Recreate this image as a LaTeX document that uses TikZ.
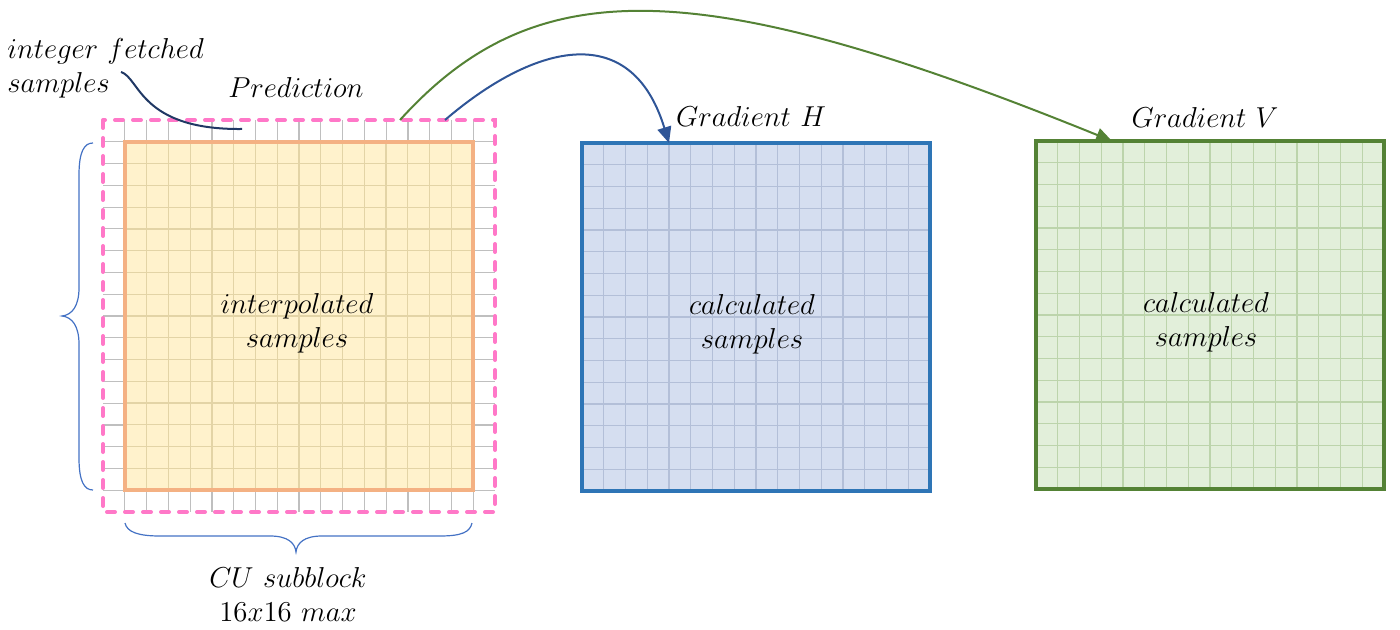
\documentclass[tikz,border=0pt]{standalone}
\usepackage{tikz}
\usetikzlibrary{calc,arrows.meta}
\definecolor{gridgray}{HTML}{BFBFBF}
\definecolor{cufill}{HTML}{FFF2CC}
\definecolor{culine}{HTML}{E3D4A6}
\definecolor{cuedge}{HTML}{F4B183}
\definecolor{predpink}{HTML}{FF78C8}
\definecolor{ghfill}{HTML}{D5DEF0}
\definecolor{ghline}{HTML}{B3BFD8}
\definecolor{ghedge}{HTML}{2E75B6}
\definecolor{gvfill}{HTML}{E2EFDA}
\definecolor{gvline}{HTML}{BCD4AB}
\definecolor{gvedge}{HTML}{548235}
\definecolor{harrow}{HTML}{2F5597}
\definecolor{pointer}{HTML}{203864}
\definecolor{braceblue}{HTML}{4472C4}

\begin{document}
\begin{tikzpicture}[x=0.5pt,y=-0.5pt,
  lbl/.style={font=\fontsize{14.4}{17}\selectfont, inner sep=0pt, align=center},
  block/.style={inner sep=0pt, outer sep=0pt, minimum width=#1, minimum height=#1},
  predgrid/.style={draw=gridgray, line width=0.6pt},
  cugrid/.style={draw=culine, line width=0.6pt},
  ghgrid/.style={draw=ghline, line width=0.6pt},
  gvgrid/.style={draw=gvline, line width=0.6pt},
  curly/.style={draw=braceblue, line width=0.6pt},
  flow/.style={line width=1pt, -{Triangle[length=8pt,width=7pt]}}]
\useasboundingbox (0,0) rectangle (1400,630);

\node[block=196pt] (pred) at (299,316) {};
\foreach \i in {1,...,17} {
  \draw[predgrid] ($(pred.north west)+(\i*21.78,0)$) -- ($(pred.south west)+(\i*21.78,0)$);
  \draw[predgrid] ($(pred.north west)+(0,\i*21.78)$) -- ($(pred.north east)+(0,\i*21.78)$);
}
\node[block=174pt, fill=cufill] (cu) at (pred.center) {};
\node[block=174pt, fill=ghfill] (gradh) at (756,317) {};
\node[block=174pt, fill=gvfill] (gradv) at (1210,315) {};
\foreach \i in {1,...,15} {
  \draw[cugrid] ($(cu.north west)+(\i*21.75,0)$) -- ($(cu.south west)+(\i*21.75,0)$);
  \draw[cugrid] ($(cu.north west)+(0,\i*21.75)$) -- ($(cu.north east)+(0,\i*21.75)$);
  \draw[ghgrid] ($(gradh.north west)+(\i*21.75,0)$) -- ($(gradh.south west)+(\i*21.75,0)$);
  \draw[ghgrid] ($(gradh.north west)+(0,\i*21.75)$) -- ($(gradh.north east)+(0,\i*21.75)$);
  \draw[gvgrid] ($(gradv.north west)+(\i*21.75,0)$) -- ($(gradv.south west)+(\i*21.75,0)$);
  \draw[gvgrid] ($(gradv.north west)+(0,\i*21.75)$) -- ($(gradv.north east)+(0,\i*21.75)$);
}
\draw[cuedge, line width=2pt] (cu.north west) rectangle (cu.south east);
\draw[predpink, line width=2pt, line cap=round, dash pattern=on 4pt off 5pt] (pred.north west) rectangle (pred.south east);
\draw[ghedge, line width=1.6pt] (gradh.north west) rectangle (gradh.south east);
\draw[gvedge, line width=2.2pt] (gradv.north west) rectangle (gradv.south east);

\node[lbl] (cutext) at ([shift={(-1pt,-3.5pt)}]cu.center) {$interpolated$\\$samples$};
\node[lbl] (ghtext) at ([shift={(-2pt,-3.5pt)}]gradh.center) {$calculated$\\$samples$};
\node[lbl] (gvtext) at ([shift={(-2pt,-3.5pt)}]gradv.center) {$calculated$\\$samples$};
\node[lbl, anchor=base] (predlbl) at (296,98) {$Prediction$};
\node[lbl, anchor=base] (ghlbl) at (751,127) {$Gradient\ H$};
\node[lbl, anchor=base] (gvlbl) at (1205,128) {$Gradient\ V$};
\node[lbl, anchor=west, align=left] (fetched) at (7,68) {$integer\ fetched$\\$samples$};
\node[lbl] (cusize) at (288,594) {$CU\ subblock$\\$16x16\ max$};

\coordinate (ptrfrom) at (121,72);
\coordinate (ptrto) at (242,129);
\coordinate (hfrom) at ([xshift=-25pt]pred.north east);
\coordinate (vfrom) at ([xshift=-47.5pt]pred.north east);
\coordinate (hto) at ([xshift=43.5pt]gradh.north west);
\coordinate (vto) at ([xshift=38pt]gradv.north west);
\draw[pointer, line width=1pt] (ptrfrom) .. controls +(19,6) and +(-102,1) .. (ptrto);
\draw[flow, harrow] (hfrom) .. controls +(85,-73) and +(-39,-127) .. (hto);
\draw[flow, gvedge] (vfrom) .. controls +(134,-148) and +(-417,-169) .. (vto);

\draw[curly] (93,143) .. controls (84,143) and (79,152) .. (79,175) -- (79,288)
  .. controls (79,306) and (72,315) .. (62,316) .. controls (72,317) and (79,326) .. (79,344)
  -- (79,458) .. controls (79,481) and (84,490) .. (93,490);
\draw[curly] (125,523) .. controls (127,532) and (138,536) .. (160,536) -- (270,536)
  .. controls (288,536) and (295,543) .. (296,552) .. controls (297,543) and (304,536) .. (322,536)
  -- (440,536) .. controls (462,536) and (470,532) .. (472,523);
\end{tikzpicture}
\end{document}
